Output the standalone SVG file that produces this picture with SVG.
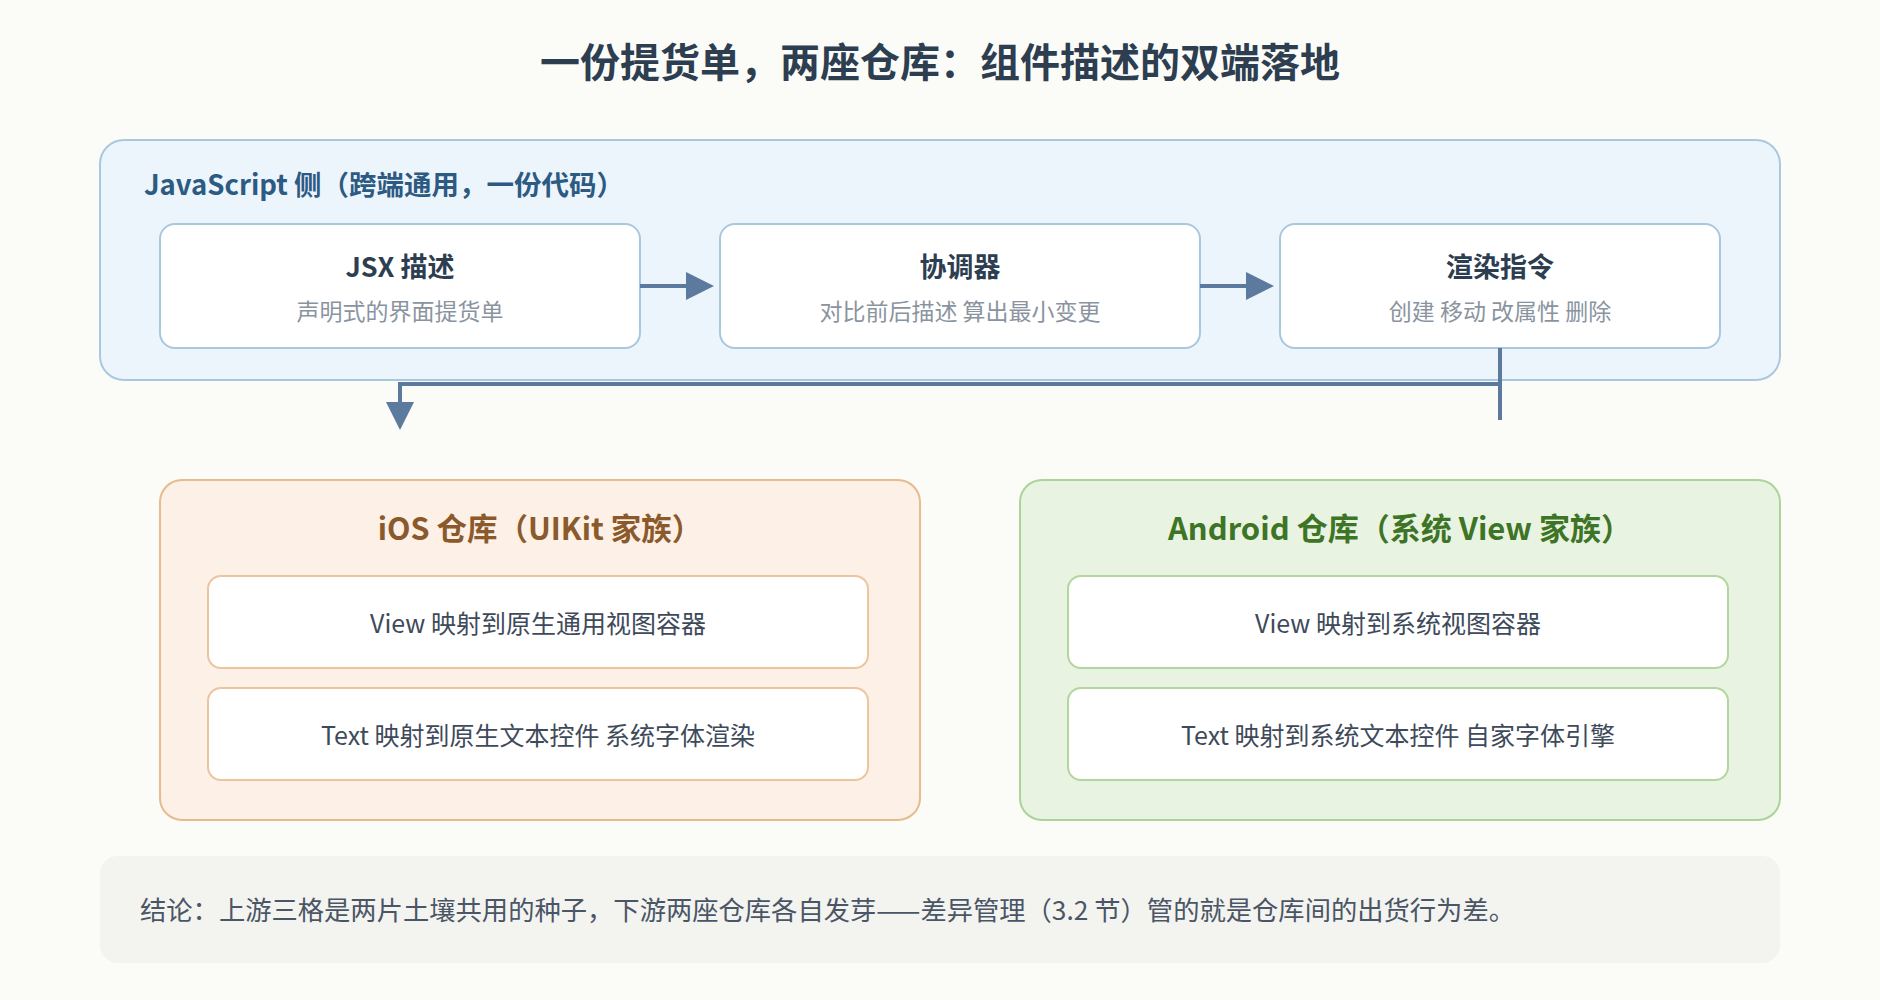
<svg xmlns="http://www.w3.org/2000/svg" width="1880" height="1000" viewBox="0 0 1880 1000">
<defs>
<style>
text{font-family:"Noto Sans CJK SC","Noto Sans",sans-serif;}
.title{font-size:40px;font-weight:700;fill:#2c3e50;}
.grp{font-size:27.5px;font-weight:700;fill:#2c5a82;}
.ntitle{font-size:27px;font-weight:700;fill:#2c3e50;}
.nsub{font-size:23px;fill:#8a949f;}
.item{font-size:25px;fill:#3e4a5a;}
.concl{font-size:26.3px;fill:#4a5566;}
.jsbox{fill:#edf5fc;stroke:#a8c8e0;stroke-width:2;}
.node{fill:#ffffff;stroke:#a8c8e0;stroke-width:2;}
.iosbox{fill:#fdf0e6;stroke:#e6bb8e;stroke-width:2;}
.iositem{fill:#ffffff;stroke:#ecc59e;stroke-width:2;}
.andbox{fill:#e9f3e1;stroke:#add29a;stroke-width:2;}
.anditem{fill:#ffffff;stroke:#b3d6a0;stroke-width:2;}
.conn{fill:none;stroke:#5b7a9d;stroke-width:4;}
</style>
<marker id="ah" viewBox="0 0 28 28" refX="0" refY="14" markerWidth="28" markerHeight="28" markerUnits="userSpaceOnUse" orient="auto">
<path d="M0,0 L28,14 L0,28 z" fill="#5b7a9d"/>
</marker>
</defs>
<rect x="0" y="0" width="1880" height="1000" fill="#fbfbf8"/>
<text class="title" x="940" y="77" text-anchor="middle">一份提货单，两座仓库：组件描述的双端落地</text>

<g id="js-side">
<rect class="jsbox" x="100" y="140" width="1680" height="240" rx="24"/>
<text class="grp" x="144" y="195">JavaScript 侧（跨端通用，一份代码）</text>
</g>
<g id="jsx">
<rect class="node" x="160" y="224" width="480" height="124" rx="15"/>
<text class="ntitle" x="400" y="277" text-anchor="middle">JSX 描述</text>
<text class="nsub" x="400" y="320" text-anchor="middle">声明式的界面提货单</text>
</g>
<g id="reconciler">
<rect class="node" x="720" y="224" width="480" height="124" rx="15"/>
<text class="ntitle" x="960" y="277" text-anchor="middle">协调器</text>
<text class="nsub" x="960" y="320" text-anchor="middle">对比前后描述 算出最小变更</text>
</g>
<g id="render-cmds">
<rect class="node" x="1280" y="224" width="440" height="124" rx="15"/>
<text class="ntitle" x="1500" y="277" text-anchor="middle">渲染指令</text>
<text class="nsub" x="1500" y="320" text-anchor="middle">创建 移动 改属性 删除</text>
</g>

<g id="connectors">
<path class="conn" d="M640,286 H686" marker-end="url(#ah)"/>
<path class="conn" d="M1200,286 H1246" marker-end="url(#ah)"/>
<path class="conn" d="M1500,348 V420"/>
<path class="conn" d="M1500,384 H400 V402" marker-end="url(#ah)"/>
</g>

<g id="ios">
<rect class="iosbox" x="160" y="480" width="760" height="340" rx="22"/>
<text x="540" y="540" text-anchor="middle" font-size="30.5" font-weight="700" fill="#8a5a2c">iOS 仓库（UIKit 家族）</text>
</g>
<g id="ios-view">
<rect class="iositem" x="208" y="576" width="660" height="92" rx="13"/>
<text class="item" x="538" y="633" text-anchor="middle">View 映射到原生通用视图容器</text>
</g>
<g id="ios-text">
<rect class="iositem" x="208" y="688" width="660" height="92" rx="13"/>
<text class="item" x="538" y="745" text-anchor="middle">Text 映射到原生文本控件 系统字体渲染</text>
</g>

<g id="android">
<rect class="andbox" x="1020" y="480" width="760" height="340" rx="22"/>
<text x="1400" y="540" text-anchor="middle" font-size="31" font-weight="700" fill="#3e7426">Android 仓库（系统 View 家族）</text>
</g>
<g id="android-view">
<rect class="anditem" x="1068" y="576" width="660" height="92" rx="13"/>
<text class="item" x="1398" y="633" text-anchor="middle">View 映射到系统视图容器</text>
</g>
<g id="android-text">
<rect class="anditem" x="1068" y="688" width="660" height="92" rx="13"/>
<text class="item" x="1398" y="745" text-anchor="middle">Text 映射到系统文本控件 自家字体引擎</text>
</g>

<g id="conclusion">
<rect x="100" y="856" width="1680" height="107" rx="18" fill="#f3f3ef"/>
<text class="concl" x="140" y="920">结论：上游三格是两片土壤共用的种子，下游两座仓库各自发芽——差异管理（3.2 节）管的就是仓库间的出货行为差。</text>
</g>
</svg>
